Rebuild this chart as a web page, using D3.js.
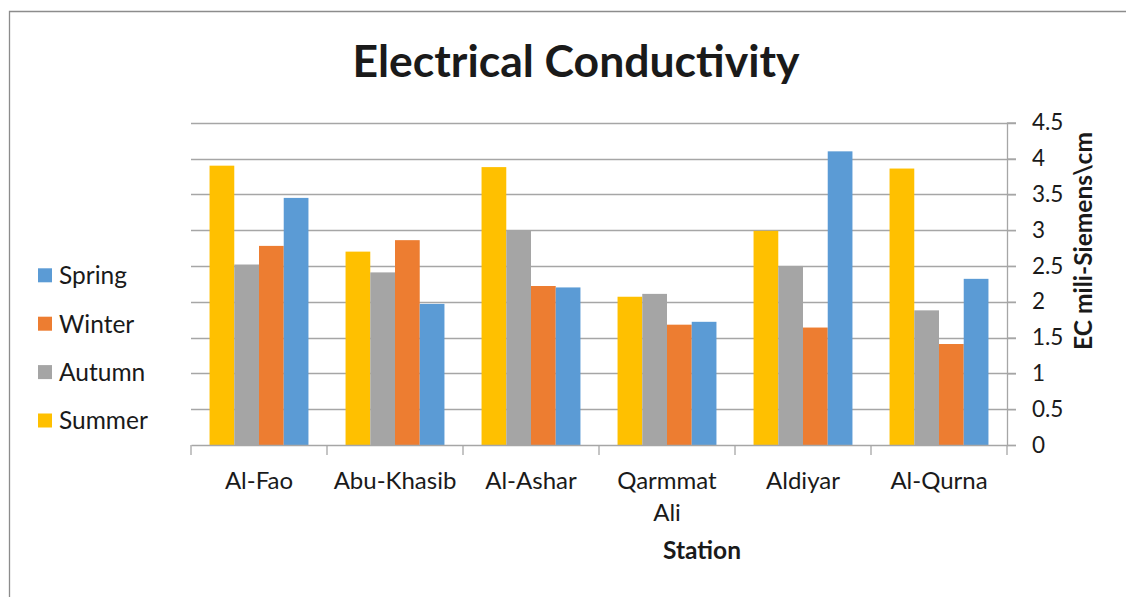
<!DOCTYPE html>
<html><head><meta charset="utf-8">
<script src="https://cdn.jsdelivr.net/npm/d3@7"></script>
<style>body{margin:0;background:#fff}svg{display:block}text{font-family:Lato,"Liberation Sans",sans-serif;fill:#1a1a1a}</style>
</head><body>
<svg id="c" width="1126" height="597"></svg>
<script>
const stations = ["Al-Fao","Abu-Khasib","Al-Ashar","Qarmmat Ali","Aldiyar","Al-Qurna"];
const seriesNames = ["Summer","Autumn","Winter","Spring"];
const summer = [3.90,2.70,3.88,2.07,2.99,3.86];
const autumn = [2.52,2.41,3.00,2.11,2.50,1.88];
const winter = [2.78,2.86,2.22,1.68,1.64,1.41];
const spring = [3.45,1.97,2.20,1.72,4.10,2.32];
const yTicks = [0,0.5,1,1.5,2,2.5,3,3.5,4,4.5];
const legendOrder = ["Spring","Winter","Autumn","Summer"];
const colors = {Summer:"#FFC000",Autumn:"#A5A5A5",Winter:"#ED7D31",Spring:"#5B9BD5"};
const values = {Summer:summer,Autumn:autumn,Winter:winter,Spring:spring};

const svg = d3.select("#c");
const L=191,R=1007,T=122.7,B=445;
const x = d3.scaleBand().domain(stations).range([L,R]).padding(0);
const bw = x.bandwidth()/(seriesNames.length+1.5);
const xs = d3.scaleBand().domain(seriesNames).range([bw*0.75, x.bandwidth()-bw*0.75]).padding(0);
const y = d3.scaleLinear().domain([0,4.5]).range([B,T]);

// border
svg.append("path").attr("d","M9.5,597 V11.5 H1126").attr("fill","none").attr("stroke","#8c8c8c").attr("stroke-width",1.3);

// title
svg.append("text").attr("x",576).attr("y",76.7).attr("text-anchor","middle")
  .attr("font-weight","bold").attr("font-size",44.5).text("Electrical Conductivity");

// gridlines
svg.append("g").selectAll("line").data(yTicks.filter(d=>d>0)).join("line")
  .attr("x1",L).attr("x2",R+9).attr("y1",d=>Math.round(y(d))+0.5).attr("y2",d=>Math.round(y(d))+0.5)
  .attr("stroke","#a6a6a6").attr("stroke-width",1.3);

// bars
const g = svg.append("g");
seriesNames.forEach(s=>{
  g.selectAll(null).data(stations.map((st,i)=>({st,v:values[s][i]}))).join("rect")
    .attr("x",d=>x(d.st)+xs(s)).attr("width",xs.bandwidth())
    .attr("y",d=>y(d.v)).attr("height",d=>B-y(d.v)).attr("fill",colors[s]);
});

// right axis
const ya = d3.axisRight(y).tickValues(yTicks).tickSize(9).tickPadding(16).tickFormat(d3.format("~g"));
const yg = svg.append("g").attr("transform",`translate(${R},0)`).call(ya);
yg.select(".domain").attr("stroke","#a6a6a6").attr("stroke-width",1.3);
yg.selectAll(".tick line").attr("stroke","#a6a6a6").attr("stroke-width",1.3);
yg.selectAll(".tick text").attr("font-size",22.5).attr("font-family","Lato").attr("fill","#1a1a1a");

// bottom axis line and ticks
const xa = d3.axisBottom(x).tickSize(0).tickFormat("");
const xg = svg.append("g").attr("transform",`translate(0,${B})`).call(xa);
xg.select(".domain").attr("stroke","#a6a6a6").attr("stroke-width",1.3);
const tickPos = stations.map(s=>x(s)).concat([R]);
svg.append("g").selectAll("line").data(tickPos).join("line")
  .attr("x1",d=>d).attr("x2",d=>d).attr("y1",B).attr("y2",B+10)
  .attr("stroke","#a6a6a6").attr("stroke-width",1.3);

// category labels
const cl = svg.append("g").selectAll("text").data(stations).join("text")
  .attr("text-anchor","middle").attr("font-size",24)
  .attr("x",d=>x(d)+x.bandwidth()/2).attr("y",489.3);
cl.each(function(d){
  const parts = d==="Qarmmat Ali" ? ["Qarmmat","Ali"] : [d];
  const t = d3.select(this);
  parts.forEach((p,i)=>t.append("tspan").attr("x",x(d)+x.bandwidth()/2).attr("dy",i?31.7:0).text(p));
});

// axis titles
svg.append("text").attr("x",702).attr("y",559.3).attr("text-anchor","middle")
  .attr("font-weight","bold").attr("font-size",24.5).text("Station");
svg.append("text").attr("transform","translate(1092,241) rotate(-90)").attr("text-anchor","middle")
  .attr("font-weight","bold").attr("font-size",24.5).text("EC mili-Siemens\\cm");

// legend
const lg = svg.append("g").selectAll("g").data(legendOrder).join("g")
  .attr("transform",(d,i)=>`translate(38,${275.3+i*48.4})`);
lg.append("rect").attr("x",0).attr("y",-7).attr("width",14).attr("height",14).attr("fill",d=>colors[d]);
lg.append("text").attr("x",21).attr("y",0).attr("dy","0.36em").attr("font-size",24.5).text(d=>d);
</script>
</body></html>
